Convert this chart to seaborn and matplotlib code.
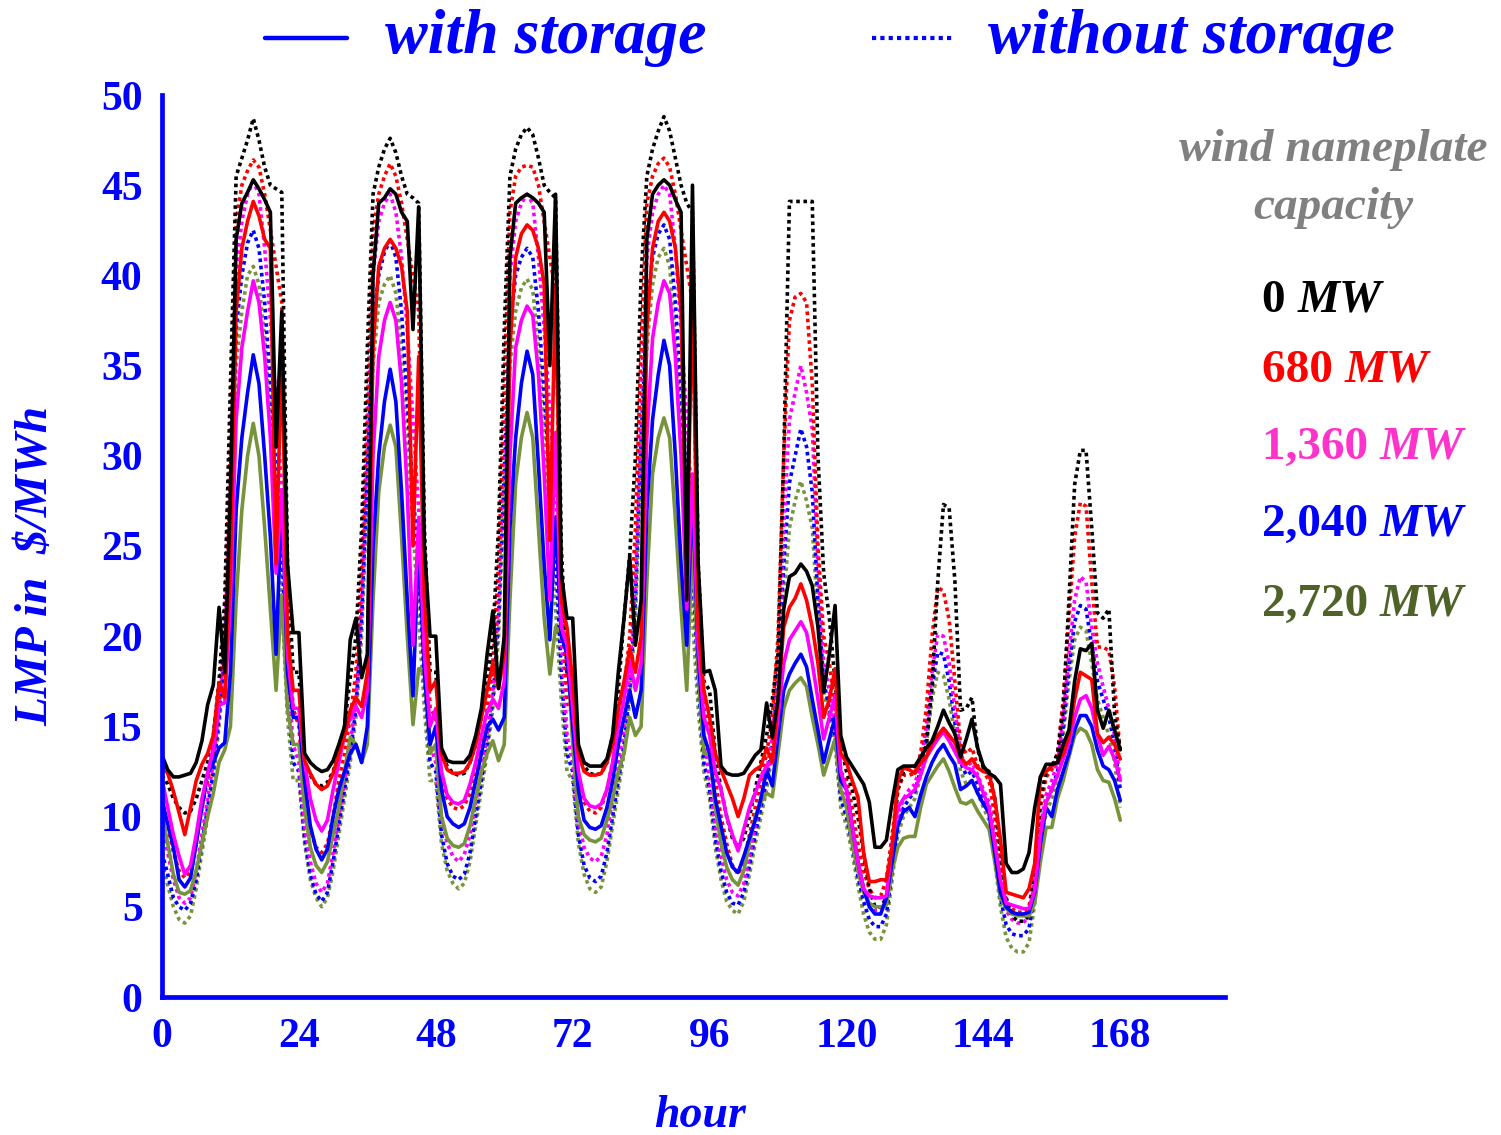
import numpy as np
import pandas as pd
import matplotlib
matplotlib.use("Agg")
import matplotlib.pyplot as plt
from matplotlib.lines import Line2D
import seaborn as sns

# ---------------- data ----------------
hours = list(range(0, 169))
hour_ticks = [0, 24, 48, 72, 96, 120, 144, 168]
y_ticks = [0, 5, 10, 15, 20, 25, 30, 35, 40, 45, 50]
capacities = ["0", "680", "1,360", "2,040", "2,720"]

# with storage (solid)
with_0 = (
    [13.4,12.6,12.2,12.2,12.3,12.4,13.0,14.2,16.2,17.3,21.6,18.0,28.0,42.0,44.0,44.6,45.3,44.8,44.2,43.5,30.5,38.0,24.0,20.2]
  + [20.2,13.5,13.0,12.7,12.5,12.6,13.1,14.0,15.0,19.8,21.0,17.7,19.0,40.0,44.0,44.3,44.8,44.5,43.5,43.0,37.0,43.8,25.0,20.0]
  + [20.0,13.8,13.1,13.0,13.0,13.0,13.4,14.5,16.0,19.0,21.4,17.1,20.0,41.0,44.0,44.3,44.5,44.3,44.0,43.5,35.0,44.5,23.5,21.0]
  + [21.0,14.0,13.0,12.8,12.8,12.8,13.2,14.5,18.0,21.0,24.4,19.5,22.0,42.0,44.5,45.0,45.3,45.0,44.2,43.5,22.0,45.0,24.0,18.0]
  + [18.1,17.0,12.8,12.4,12.3,12.3,12.4,12.9,13.4,13.7,16.3,14.4,16.5,21.5,23.3,23.5,24.0,23.6,22.8,20.5,16.9,19.0,21.7,14.5]
  + [13.3,12.8,12.3,11.8,10.8,8.3,8.3,8.7,10.8,12.6,12.8,12.8,12.8,13.3,13.8,14.2,15.0,15.9,15.2,14.6,13.3,14.3,15.4,13.8,12.8,
     12.4,12.2,11.8,7.4,6.9,6.9,7.1,8.0,10.5,12.2,12.9,12.9,13.0,14.0,14.8,17.5,19.3,19.2,19.6,15.9,14.9,15.9,14.8,13.7]
)
with_680 = (
    [12.8,12.4,11.4,10.2,9.0,10.5,12.0,12.9,13.5,14.5,17.4,16.6,24.0,38.0,41.5,43.0,44.1,43.3,42.0,41.5,24.0,36.0,20.0,17.0]
  + [17.0,13.1,12.4,11.8,11.5,11.7,12.4,13.5,14.5,15.9,16.6,16.1,18.0,36.0,40.5,41.5,42.0,41.5,40.5,38.0,25.0,35.5,22.0,17.0]
  + [17.5,13.5,12.6,12.4,12.4,12.5,13.0,14.0,15.5,17.0,18.5,17.1,19.0,36.0,41.0,42.3,42.8,42.5,41.5,39.5,25.3,39.5,22.0,20.5]
  + [17.5,13.5,12.5,12.3,12.3,12.4,13.0,14.0,16.0,17.5,19.3,18.0,20.0,37.0,41.5,43.0,43.5,43.0,41.5,38.0,23.5,39.4,20.5,17.0]
  + [15.5,13.5,12.6,11.8,11.0,10.0,11.0,12.3,12.6,12.8,13.8,13.0,16.5,20.5,21.6,22.1,22.9,22.0,20.5,18.5,15.5,16.5,18.2,13.5]
  + [13.0,12.0,11.1,8.0,6.4,6.4,6.5,6.5,8.3,12.0,12.7,12.6,12.4,13.0,13.3,14.1,14.5,14.9,14.5,14.1,13.3,12.9,13.2,12.7,12.5,
     12.4,11.0,8.7,5.8,5.7,5.6,5.5,6.0,7.4,12.2,12.5,12.8,13.0,13.5,14.5,16.5,18.0,17.8,17.6,14.6,14.1,14.4,14.0,13.2]
)
with_1360 = (
    [12.1,10.5,9.0,7.8,6.8,7.3,9.0,11.0,12.4,13.8,16.2,16.3,22.0,32.0,36.0,38.0,39.7,38.5,35.5,31.0,23.5,28.0,19.0,16.0]
  + [16.0,13.0,11.0,9.8,9.2,9.8,11.5,13.0,14.5,15.5,16.1,15.5,17.0,30.0,35.5,37.5,38.5,37.5,34.0,28.0,19.5,26.5,19.0,15.0]
  + [16.0,12.5,11.2,10.8,10.7,10.9,11.8,13.0,14.5,15.8,16.5,16.0,17.5,30.0,36.0,37.5,38.3,37.8,34.5,29.0,22.0,31.3,20.5,19.5]
  + [16.0,12.5,11.0,10.6,10.5,10.7,11.5,13.0,15.0,16.5,18.6,17.0,18.5,31.0,36.5,38.5,39.7,39.0,35.5,30.0,21.5,29.0,19.5,15.5]
  + [14.5,12.5,11.5,10.0,9.0,8.1,9.3,10.5,11.3,12.2,12.8,13.0,15.5,18.5,19.8,20.3,20.8,20.2,18.5,16.5,14.3,15.5,16.7,12.5]
  + [11.5,9.5,7.5,6.0,5.6,5.5,5.5,5.6,8.5,10.5,11.0,11.2,11.5,12.3,13.3,13.8,14.3,14.7,14.2,13.6,13.0,12.7,12.6,12.2,11.3,
     10.5,8.5,6.5,5.2,5.1,5.0,4.9,4.9,5.9,9.0,10.8,11.5,12.3,13.2,14.1,15.5,16.5,16.7,16.0,14.5,13.4,13.9,13.2,12.0]
)
with_2040 = (
    [10.9,9.6,8.3,6.5,6.1,6.6,8.5,10.5,12.4,13.0,13.8,14.1,18.0,27.0,31.0,33.5,35.6,34.0,30.0,25.5,19.0,27.8,18.0,15.5]
  + [15.5,12.0,9.5,8.2,7.6,8.2,10.0,11.5,12.5,13.5,14.0,13.0,15.0,25.0,30.0,33.0,34.8,33.0,28.0,22.0,16.7,25.2,18.0,14.0]
  + [15.0,11.5,10.0,9.6,9.4,9.6,10.5,12.0,13.5,15.0,15.4,14.8,15.5,26.0,31.0,34.0,35.8,34.5,29.5,24.0,19.8,26.6,20.0,19.0]
  + [15.0,11.5,9.8,9.4,9.3,9.5,10.5,12.0,14.0,15.5,17.0,15.5,17.0,27.0,32.0,34.5,36.4,35.0,30.0,24.0,19.5,28.1,19.0,14.5]
  + [13.5,11.0,9.5,8.0,7.2,6.9,7.8,8.8,9.8,11.0,12.6,11.7,14.5,17.0,17.9,18.5,19.0,18.3,16.5,14.8,13.0,14.3,15.5,12.0]
  + [11.5,9.5,7.5,6.0,5.0,4.6,4.6,5.5,7.5,9.5,10.3,10.5,10.0,11.2,12.2,13.0,13.6,14.0,13.4,12.9,11.5,11.7,12.0,11.3,10.7,
     10.2,8.0,5.8,5.0,4.7,4.6,4.6,4.7,5.8,8.5,10.5,10.0,11.5,12.5,13.5,14.8,15.6,15.6,15.0,13.7,12.8,12.6,12.0,10.9]
)
with_2720 = (
    [10.2,8.5,6.8,5.8,5.7,5.9,7.0,8.5,10.0,11.3,13.0,13.7,15.0,22.0,27.0,30.0,31.8,30.0,26.0,21.5,17.0,22.3,16.0,14.0]
  + [14.0,10.5,8.3,7.3,6.9,7.5,9.0,10.5,12.5,14.4,14.0,13.0,14.0,22.0,28.0,30.5,31.7,30.5,25.5,20.0,15.1,18.2,18.0,13.5]
  + [14.0,10.0,8.8,8.4,8.3,8.5,9.5,11.0,12.5,13.5,14.2,13.1,14.0,22.0,28.5,31.0,32.4,31.0,26.0,21.0,17.9,20.5,20.2,19.5]
  + [14.0,10.0,9.0,8.7,8.6,8.8,9.8,11.0,12.5,13.5,15.5,14.5,15.0,23.0,29.0,31.0,32.1,31.0,26.5,21.5,17.0,25.3,18.0,13.5]
  + [13.5,10.5,8.5,7.2,6.5,6.2,7.0,8.5,10.0,10.8,11.3,11.1,13.5,16.0,17.0,17.4,17.7,17.2,15.5,14.0,12.3,13.3,14.3,11.5]
  + [10.5,8.5,7.0,5.8,5.2,5.0,5.0,5.1,7.0,8.3,8.8,8.9,8.9,10.5,11.8,12.3,12.8,13.2,12.5,11.6,10.8,10.7,10.9,10.3,9.8,
     9.3,7.5,5.5,4.9,4.6,4.5,4.5,4.5,5.2,7.5,9.4,9.4,11.0,12.0,13.3,14.5,14.9,14.7,14.0,12.6,12.0,11.9,11.0,9.8]
)

# without storage (dotted)
without_0 = (
    [12.3,11.8,11.0,10.5,10.2,10.3,11.0,12.0,13.0,14.5,17.5,22.0,34.0,45.5,46.5,47.5,48.7,47.5,46.0,45.0,44.8,44.6,24.0,18.0]
  + [18.0,13.0,12.3,11.8,11.7,11.9,12.5,13.5,15.0,17.7,20.0,26.0,36.0,44.5,46.0,47.0,47.6,46.8,45.5,44.5,44.3,44.0,26.0,18.0]
  + [18.0,13.5,12.8,12.4,12.3,12.4,13.0,14.0,15.5,17.5,20.0,26.0,37.0,45.5,47.0,47.8,48.2,47.8,46.5,45.0,44.6,44.3,25.0,18.0]
  + [17.0,13.5,12.8,12.4,12.3,12.4,13.0,14.5,17.0,21.0,24.5,30.0,40.0,45.5,47.0,48.0,48.8,48.0,46.5,45.0,44.0,43.5,24.0,17.5]
  + [17.0,13.5,11.5,10.0,8.8,8.3,8.8,10.0,11.5,13.0,14.5,16.5,19.0,30.0,44.1,44.1,44.1,44.1,44.1,30.0,23.5,21.0,17.5,14.0]
  + [12.5,11.5,10.0,8.0,6.0,5.0,5.0,5.5,8.0,11.5,12.5,12.7,12.8,13.2,13.9,17.2,23.0,27.3,27.1,23.1,15.9,16.0,16.6,13.7,12.7,
     12.5,11.0,8.0,5.5,4.5,4.2,4.2,4.5,7.0,11.0,12.5,12.8,13.5,16.0,22.0,28.4,30.3,30.3,26.0,21.3,21.0,21.5,15.7,13.7]
)
without_680 = (
    [11.0,9.5,8.0,7.0,6.6,7.0,8.5,10.5,12.0,13.5,16.5,21.0,31.0,43.0,45.0,45.8,46.4,46.0,44.5,42.5,40.5,38.5,21.0,16.0]
  + [15.0,11.0,9.3,8.3,8.0,8.5,10.0,12.0,13.5,15.5,18.0,24.0,33.0,42.5,44.5,45.5,46.2,45.5,44.0,42.0,40.0,38.0,23.0,16.0]
  + [15.5,12.0,11.0,10.5,10.4,10.6,11.3,12.5,14.0,16.0,18.5,24.0,34.0,43.5,45.5,46.0,46.1,46.0,45.0,43.0,41.0,39.0,23.0,16.5]
  + [15.5,12.0,10.8,10.3,10.2,10.5,11.5,13.0,15.0,17.0,20.0,26.0,36.0,44.0,45.5,46.2,46.5,46.0,44.5,42.5,40.5,38.5,22.0,16.0]
  + [15.0,12.0,10.0,8.5,7.3,6.8,7.5,9.0,10.5,12.0,13.5,15.5,20.0,30.0,37.5,38.8,39.0,38.5,34.0,25.0,20.0,18.5,16.0,12.5]
  + [12.0,10.5,8.5,7.0,6.0,5.5,5.6,6.5,9.0,11.5,12.3,12.3,12.4,13.5,16.0,20.0,22.7,22.5,20.9,17.5,14.0,13.5,13.8,12.8,12.5,
     12.0,10.0,7.0,5.3,4.9,4.7,4.7,5.0,7.0,10.5,12.2,12.6,13.5,16.5,21.0,25.5,27.4,27.2,23.0,19.4,19.4,19.2,17.2,13.5]
)
without_1360 = (
    [9.5,8.0,6.5,5.5,5.2,5.5,7.0,9.0,11.0,13.0,16.0,20.0,29.0,40.0,43.0,44.5,45.2,44.5,41.5,37.5,33.0,28.0,18.0,14.0]
  + [13.0,9.5,7.5,6.3,5.8,6.3,8.0,10.0,12.0,14.0,16.5,22.0,31.0,40.0,43.0,44.0,44.5,43.5,41.0,37.0,32.0,27.0,19.0,14.0]
  + [13.0,10.0,8.5,7.8,7.5,7.9,9.0,10.8,12.5,14.5,17.0,22.0,31.0,40.0,43.0,44.0,44.5,44.0,41.0,37.0,32.5,28.0,20.0,14.5]
  + [13.0,9.8,8.3,7.7,7.5,7.8,9.0,11.0,13.0,15.0,18.0,23.0,33.0,41.0,43.5,44.5,45.0,44.5,41.5,37.0,32.0,27.0,19.0,14.5]
  + [12.0,9.5,7.8,6.5,5.8,5.6,6.3,7.8,9.5,11.0,12.5,14.5,18.5,26.0,32.0,33.5,35.0,33.5,31.5,24.0,18.5,17.0,15.0,11.5]
  + [11.0,9.3,7.5,6.0,5.2,4.8,4.8,5.5,7.8,10.0,11.0,11.5,11.8,13.0,15.0,18.0,20.1,20.0,18.5,16.0,13.5,12.8,13.0,12.3,11.5,
     10.8,8.8,6.3,4.8,4.3,4.1,4.1,4.5,6.5,9.5,11.2,12.0,13.0,15.5,19.0,22.0,23.3,23.0,20.5,18.5,17.2,16.0,14.5,12.0]
)
without_2040 = (
    [8.0,6.8,5.5,5.0,4.8,5.2,6.5,8.5,10.5,12.5,15.5,19.0,27.0,37.0,40.0,41.8,42.5,41.5,38.5,34.0,29.5,25.0,17.0,13.0]
  + [12.5,8.8,6.8,5.7,5.3,5.8,7.5,9.5,11.5,13.5,16.0,21.0,29.0,37.5,40.0,41.3,41.9,41.0,38.0,33.0,28.0,24.0,17.5,13.0]
  + [12.5,9.0,7.4,6.7,6.5,6.8,8.0,10.0,12.0,14.0,16.5,21.0,29.0,37.0,40.0,41.0,41.5,41.0,38.0,33.5,28.5,24.5,18.0,13.5]
  + [12.5,9.0,7.3,6.6,6.4,6.7,8.0,10.0,12.0,14.0,17.0,22.0,31.0,38.0,41.0,42.3,42.8,42.0,38.5,33.5,28.5,24.0,17.5,13.0]
  + [11.5,8.8,7.0,5.8,5.2,5.1,5.8,7.3,9.0,10.5,12.0,14.0,18.0,24.0,28.5,30.0,31.5,30.5,28.0,22.0,17.5,16.0,14.5,11.0]
  + [10.0,8.5,6.7,5.3,4.3,3.9,3.9,4.6,7.0,9.5,10.5,11.0,11.4,12.6,14.5,17.2,19.1,19.0,17.5,15.2,13.0,12.3,12.5,11.8,11.0,
     10.2,8.0,5.5,4.0,3.5,3.4,3.4,3.8,5.8,9.0,10.8,11.5,12.5,15.0,18.2,20.8,21.7,21.5,19.5,17.5,16.5,15.5,14.0,11.5]
)
without_2720 = (
    [7.5,6.2,5.0,4.3,4.1,4.5,6.0,8.0,10.0,12.0,15.0,18.5,26.0,35.0,38.0,40.0,40.5,39.5,36.5,32.0,27.0,22.0,15.5,12.0]
  + [12.0,8.5,6.5,5.5,5.0,5.5,7.0,9.0,11.0,13.0,15.5,20.0,28.0,35.0,38.5,39.5,40.0,39.0,36.0,31.0,26.0,21.0,16.0,12.0]
  + [12.0,8.5,7.0,6.3,6.0,6.3,7.5,9.5,11.5,13.5,16.0,20.0,28.0,35.0,38.0,39.3,39.8,39.2,36.0,31.5,26.5,21.5,16.5,12.5]
  + [12.0,8.5,6.8,6.0,5.8,6.1,7.5,9.5,11.5,13.5,16.5,21.0,30.0,36.0,39.5,41.0,41.5,40.5,36.5,31.5,26.0,21.0,16.0,12.5]
  + [11.0,8.3,6.5,5.3,4.8,4.6,5.3,6.8,8.5,10.0,11.5,13.5,17.0,22.0,26.0,27.5,28.6,27.5,26.0,21.0,17.0,15.5,14.0,10.5]
  + [9.5,8.0,6.2,4.6,3.6,3.2,3.2,4.0,6.5,9.0,10.0,10.5,11.0,12.3,14.0,16.5,18.0,17.8,16.5,14.5,12.5,11.8,12.0,11.3,10.5,
     9.8,7.5,5.0,3.3,2.7,2.5,2.5,3.0,5.2,8.5,10.2,11.0,12.2,14.5,17.5,19.8,20.5,20.3,18.5,16.5,15.5,14.5,13.0,10.5]
)

# ---------------- styling ----------------
sns.set_style("white")
plt.rcParams["font.family"] = ["Liberation Serif", "DejaVu Serif"]

BLUE = "#0000FF"
line_colors = ["#000000", "#FF0000", "#FF00FF", "#0000FF", "#77933C"]
label_colors = ["#000000", "#FF0000", "#FF33CC", "#0000FF", "#4F6228"]

with_series = [with_0, with_680, with_1360, with_2040, with_2720]
without_series = [without_0, without_680, without_1360, without_2040, without_2720]

frames = []
for cap, vals in zip(capacities, with_series):
    assert len(vals) == len(hours), (cap, len(vals))
    frames.append(pd.DataFrame({"hour": hours, "lmp": vals, "cap": cap, "storage": "with"}))
for cap, vals in zip(capacities, without_series):
    assert len(vals) == len(hours), (cap, len(vals))
    frames.append(pd.DataFrame({"hour": hours, "lmp": vals, "cap": cap, "storage": "without"}))
df = pd.concat(frames, ignore_index=True)

W, H = 1501, 1135
fig = plt.figure(figsize=(W / 100, H / 100), dpi=100)
ax = fig.add_axes([162 / W, 1 - 997 / H, (1225 - 162) / W, (997 - 95) / H])

# dotted (without storage) first, then solid
for cap, col in zip(capacities[::-1], line_colors[::-1]):
    sub = df[(df["cap"] == cap) & (df["storage"] == "without")]
    sns.lineplot(data=sub, x="hour", y="lmp", ax=ax, color=col, linewidth=2.6,
                 linestyle=(0, (1, 1)), estimator=None, legend=False)
for cap, col in zip(capacities[::-1], line_colors[::-1]):
    sub = df[(df["cap"] == cap) & (df["storage"] == "with")]
    sns.lineplot(data=sub, x="hour", y="lmp", ax=ax, color=col, linewidth=2.6,
                 estimator=None, legend=False)

ax.set_xlim(0, (1225 - 162) / 5.704)
ax.set_ylim(0, 50)
ax.set_xticks(hour_ticks)
ax.set_yticks(y_ticks)
ax.set_xlabel("")
ax.set_ylabel("")
for s in ["top", "right"]:
    ax.spines[s].set_visible(False)
for s in ["left", "bottom"]:
    ax.spines[s].set_color(BLUE)
    ax.spines[s].set_linewidth(3.4)
ax.tick_params(axis="both", direction="in", length=10, width=3, color=BLUE,
               labelcolor=BLUE, labelsize=30)
ax.tick_params(axis="x", pad=15)
ax.tick_params(axis="y", pad=14)
for lbl in ax.get_xticklabels() + ax.get_yticklabels():
    lbl.set_fontweight("bold")

# axis titles
fig.text(36 / W, 1 - 566 / H, "LMP in  $/MWh", rotation=90, ha="center", va="center",
         fontsize=34, fontweight="bold", fontstyle="italic", color=BLUE)
fig.text(700 / W, 1 - 1116 / H, "hour", ha="center", va="center",
         fontsize=33, fontweight="bold", fontstyle="italic", color=BLUE)

# top legend
fig.add_artist(Line2D([265 / W, 347 / W], [1 - 38 / H, 1 - 38 / H], color=BLUE, linewidth=3.2))
fig.text(385 / W, 1 - 53 / H, "with storage", ha="left", va="baseline",
         fontsize=46, fontweight="bold", fontstyle="italic", color=BLUE)
fig.add_artist(Line2D([872 / W, 955 / W], [1 - 38 / H, 1 - 38 / H], color=BLUE, linewidth=3.0,
                      linestyle=(0, (1, 1))))
fig.text(988 / W, 1 - 53 / H, "without storage", ha="left", va="baseline",
         fontsize=46, fontweight="bold", fontstyle="italic", color=BLUE)

# right-hand capacity labels
fig.text(1333 / W, 1 - 150 / H, "wind nameplate", ha="center", va="center",
         fontsize=34, fontweight="bold", fontstyle="italic", color="#808080")
fig.text(1333 / W, 1 - 208 / H, "capacity", ha="center", va="center",
         fontsize=34, fontweight="bold", fontstyle="italic", color="#808080")

fig.canvas.draw()
renderer = fig.canvas.get_renderer()
baselines = [312, 382, 459, 536, 616]
for cap, col, yb in zip(capacities, label_colors, baselines):
    t = fig.text(1262 / W, 1 - yb / H, cap + " ", ha="left", va="baseline",
                 fontsize=34, fontweight="bold", color=col)
    bb = t.get_window_extent(renderer=renderer)
    fig.text(bb.x1 / W, 1 - yb / H, "MW", ha="left", va="baseline",
             fontsize=34, fontweight="bold", fontstyle="italic", color=col)

fig.savefig("out.png", dpi=100)
